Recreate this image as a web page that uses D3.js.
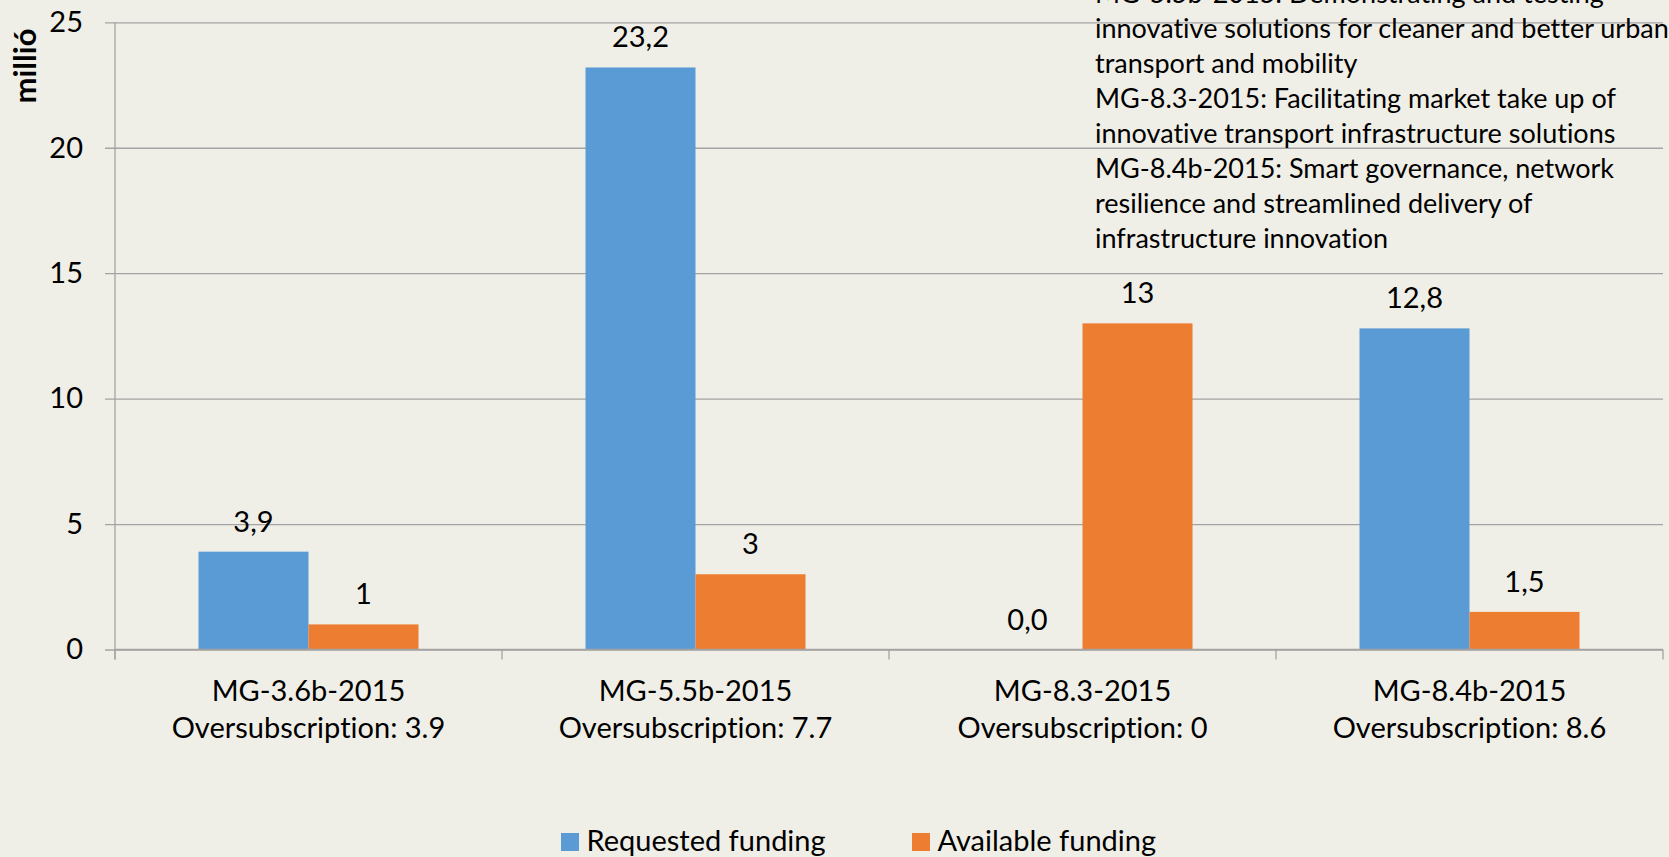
<!DOCTYPE html>
<html>
<head>
<meta charset="utf-8">
<script src="https://cdn.jsdelivr.net/npm/d3@7"></script>
<style>
  html, body { margin: 0; padding: 0; background: #F0EFE7; }
  svg { display: block; }
  text { font-family: Lato, "Open Sans", sans-serif; fill: #000; font-variant-ligatures: none; font-feature-settings: "liga" 0, "clig" 0; }
</style>
</head>
<body>
<svg id="chart" width="1669" height="857"></svg>
<script>
// ---- data ----
const categories = ["MG-3.6b-2015", "MG-5.5b-2015", "MG-8.3-2015", "MG-8.4b-2015"];
const oversubscription = [3.9, 7.7, 0, 8.6];
const requestedFunding = [3.9, 23.2, 0.0, 12.8];
const availableFunding = [1, 3, 13, 1.5];
const seriesNames = ["Requested funding", "Available funding"];
const seriesColors = ["#5B9BD5", "#ED7D31"];
const yTicks = [0, 5, 10, 15, 20, 25];
const yTitle = "millió";
const noteLines = [
  "MG-5.5b-2015: Demonstrating and testing",
  "innovative solutions for cleaner and better urban",
  "transport and mobility",
  "MG-8.3-2015: Facilitating market take up of",
  "innovative transport infrastructure solutions",
  "MG-8.4b-2015: Smart governance, network",
  "resilience and streamlined delivery of",
  "infrastructure innovation"
];

// ---- layout ----
const svg = d3.select("#chart");
const W = 1669, H = 857;
const plot = { left: 115, right: 1663, top: 22.3, bottom: 649.5 };
const gridColor = "#A3A3A3";
const fs = 29;

svg.append("rect").attr("width", W).attr("height", H).attr("fill", "#F0EFE7");

const x0 = d3.scaleBand().domain(categories)
  .range([plot.left, plot.right]).paddingInner(0.4315).paddingOuter(0.4315 / 2);
const x1 = d3.scaleBand().domain(seriesNames).range([0, x0.bandwidth()]).padding(0);
const y = d3.scaleLinear().domain([0, 25]).range([plot.bottom, plot.top]);

const locale = d3.formatLocale({ decimal: ",", thousands: " ", grouping: [3], currency: ["", ""] });
const fmtReq = locale.format(".1f");
const fmtAvail = locale.format("~g");

// y axis with gridlines
const yAxis = d3.axisLeft(y).tickValues(yTicks).tickSize(-(plot.right - (plot.left - 10))).tickPadding(22);
const gy = svg.append("g").attr("transform", `translate(${plot.left - 10},0)`).call(yAxis);
gy.select(".domain").remove();
gy.selectAll(".tick line").attr("stroke", gridColor).attr("stroke-width", 1.3);
gy.selectAll(".tick text").attr("font-size", fs).attr("font-family", "Lato, sans-serif").attr("fill", "#000");

// y axis line
svg.append("line").attr("x1", plot.left).attr("x2", plot.left)
  .attr("y1", y(25)).attr("y2", plot.bottom + 10)
  .attr("stroke", gridColor).attr("stroke-width", 1.3);

// category boundary ticks
const bounds = categories.map(c => x0(c) - x0.step() * x0.paddingOuter()).concat([plot.right]);
svg.selectAll(".ctick").data(bounds).enter().append("line")
  .attr("x1", d => d).attr("x2", d => d)
  .attr("y1", plot.bottom).attr("y2", plot.bottom + 10)
  .attr("stroke", gridColor).attr("stroke-width", 1.3);

// notes
const notes = svg.append("g");
noteLines.forEach((t, i) => {
  notes.append("text").attr("x", 1095).attr("y", 2.6 + i * 35.1)
    .attr("font-size", 27).text(t);
});

// bars
const rows = categories.map((c, i) => ({
  cat: c,
  vals: [
    { s: seriesNames[0], v: requestedFunding[i], label: fmtReq(requestedFunding[i]), color: seriesColors[0] },
    { s: seriesNames[1], v: availableFunding[i], label: fmtAvail(availableFunding[i]), color: seriesColors[1] }
  ]
}));

const groups = svg.selectAll(".grp").data(rows).enter().append("g")
  .attr("transform", d => `translate(${x0(d.cat)},0)`);

groups.selectAll("rect").data(d => d.vals).enter().append("rect")
  .attr("x", d => x1(d.s))
  .attr("width", x1.bandwidth())
  .attr("y", d => y(d.v))
  .attr("height", d => y(0) - y(d.v))
  .attr("fill", d => d.color);

groups.selectAll("text.lbl").data(d => d.vals).enter().append("text")
  .attr("class", "lbl")
  .attr("x", d => x1(d.s) + x1.bandwidth() / 2)
  .attr("y", d => y(d.v) - 20)
  .attr("text-anchor", "middle")
  .attr("font-size", fs)
  .text(d => d.label);

// x axis line (zero) on top
svg.append("line").attr("x1", plot.left).attr("x2", plot.right)
  .attr("y1", y(0)).attr("y2", y(0)).attr("stroke", gridColor).attr("stroke-width", 1.3);

// category labels
categories.forEach((c, i) => {
  const cx = x0(c) + x0.bandwidth() / 2;
  svg.append("text").attr("x", cx).attr("y", 701).attr("text-anchor", "middle")
    .attr("font-size", fs).text(c);
  svg.append("text").attr("x", cx).attr("y", 738).attr("text-anchor", "middle")
    .attr("font-size", fs).text("Oversubscription: " + oversubscription[i]);
});

// y title
svg.append("text")
  .attr("transform", "translate(36,66) rotate(-90)")
  .attr("text-anchor", "middle")
  .attr("font-size", 31).attr("font-weight", "bold")
  .text(yTitle);

// legend
const legendX = [561, 912];
seriesNames.forEach((s, i) => {
  svg.append("rect").attr("x", legendX[i]).attr("y", 833).attr("width", 18).attr("height", 18)
    .attr("fill", seriesColors[i]);
  svg.append("text").attr("x", legendX[i] + 25.5).attr("y", 851)
    .attr("font-size", fs).text(s);
});
</script>
</body>
</html>
